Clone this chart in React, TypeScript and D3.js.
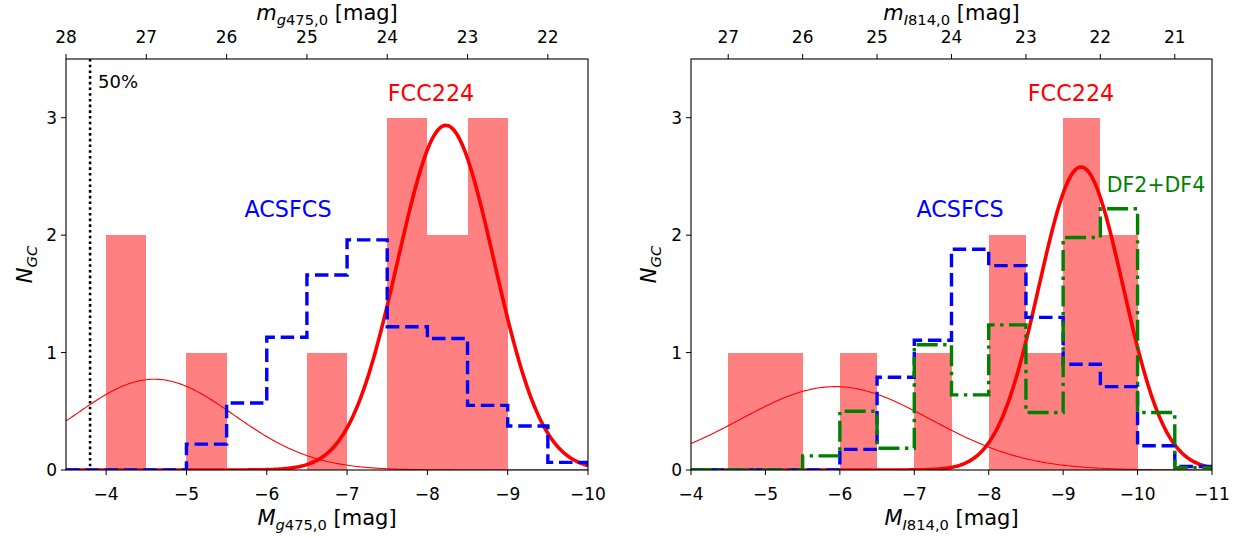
import React from "react";
import * as d3 from "d3";

// ---------- DATA ----------
const DIST_MOD = 31.5;
const BIN_W = 0.5;

// Left panel (g475)
const leftFccEdgeStart = -4;
const leftFccCounts = [2, 0, 1, 0, 0, 1, 0, 3, 2, 3, 0, 0];
const leftAcsEdgeStart = -3.5;
const leftAcsValues = [0, 0, 0, 0.22, 0.57, 1.13, 1.66, 1.96, 1.22, 1.12, 0.55, 0.375, 0.065];
const leftFitThick = [2.935, -8.23, 0.6]; // amplitude, mean, sigma
const leftFitThin = [0.773, -4.6, 0.99];
const leftCompleteness = -3.8;
const leftBottomTicks = [-4, -5, -6, -7, -8, -9, -10];
const leftTopTicks = [28, 27, 26, 25, 24, 23, 22];

// Right panel (I814)
const rightEdgeStart = -4;
const rightFccCounts = [0, 1, 1, 0, 1, 0, 1, 0, 2, 1, 3, 2, 0, 0];
const rightAcsValues = [0, 0, 0, 0, 0.176, 0.79, 1.105, 1.88, 1.74, 1.3, 0.9, 0.71, 0.207, 0.03];
const rightDfValues = [0, 0, 0, 0.12, 0.5, 0.185, 1.066, 0.64, 1.236, 0.49, 1.98, 2.225, 0.49, 0.02];
const rightFitThick = [2.58, -9.24, 0.565];
const rightFitThin = [0.71, -5.94, 1.28];
const rightBottomTicks = [-4, -5, -6, -7, -8, -9, -10, -11];
const rightTopTicks = [27, 26, 25, 24, 23, 22, 21];

const yTicks = [0, 1, 2, 3];

// ---------- LAYOUT ----------
const W = 1245;
const H = 538;
const TOP = 59;
const BOTTOM = 470;
const FONT = "DejaVu Sans, Verdana, sans-serif";
const RED = "#ff0000";
const BAR = "rgb(255,128,128)";
const BLUE = "#0000ff";
const GREEN = "#008000";
const TICK_FS = 17;
const LABEL_FS = 21;
const SUB_FS = 14.7;

const yScale = d3.scaleLinear().domain([0, 3.5]).range([BOTTOM, TOP]);

function stepPath(x: d3.ScaleLinear<number, number>, start: number, vals: number[]) {
  const p = d3.path();
  p.moveTo(x(start), yScale(0));
  vals.forEach((v, i) => {
    const a = start - i * BIN_W;
    const b = a - BIN_W;
    p.lineTo(x(a), yScale(v));
    p.lineTo(x(b), yScale(v));
  });
  p.lineTo(x(start - vals.length * BIN_W), yScale(0));
  return p.toString();
}

function gaussPath(x: d3.ScaleLinear<number, number>, params: number[]) {
  const [amp, mu, sig] = params;
  const [d0, d1] = x.domain();
  const n = 300;
  const pts: [number, number][] = d3.range(n + 1).map((i) => {
    const m = d0 + ((d1 - d0) * i) / n;
    return [m, amp * Math.exp(-((m - mu) ** 2) / (2 * sig * sig))];
  });
  return d3
    .line<[number, number]>()
    .x((d) => x(d[0]))
    .y((d) => yScale(d[1]))(pts) as string;
}

type PanelProps = {
  id: string;
  x: d3.ScaleLinear<number, number>;
  fccStart: number;
  fccCounts: number[];
  acsStart: number;
  acsValues: number[];
  dfValues?: number[];
  thick: number[];
  thin: number[];
  bottomTicks: number[];
  topTicks: number[];
  band: string;
  completeness?: number;
  fccLabel: [number, number];
  acsLabel: [number, number];
  dfLabel?: [number, number];
  yLabelX: number;
};

function Panel(p: PanelProps) {
  const [x0, x1] = p.x.range();
  const left = Math.min(x0, x1);
  const right = Math.max(x0, x1);
  const cx = (left + right) / 2;
  const clipId = "clip-" + p.id;
  const isG = p.band === "g475";
  return (
    <g>
      <defs>
        <clipPath id={clipId}>
          <rect x={left} y={TOP} width={right - left} height={BOTTOM - TOP} />
        </clipPath>
      </defs>
      {/* bars */}
      {p.fccCounts.map((c, i) => {
        if (c <= 0) return null;
        const a = p.fccStart - i * BIN_W;
        const b = a - BIN_W;
        return (
          <rect
            key={i}
            x={p.x(a)}
            y={yScale(c)}
            width={p.x(b) - p.x(a)}
            height={yScale(0) - yScale(c)}
            fill={BAR}
            shapeRendering="crispEdges"
          />
        );
      })}
      <g clipPath={`url(#${clipId})`}>
        {p.completeness !== undefined && (
          <line
            x1={p.x(p.completeness)}
            x2={p.x(p.completeness)}
            y1={TOP}
            y2={BOTTOM}
            stroke="#000"
            strokeWidth={2.6}
            strokeDasharray="2.6 3.1"
          />
        )}
        <path d={gaussPath(p.x, p.thin)} fill="none" stroke={RED} strokeWidth={1.1} />
        <path d={gaussPath(p.x, p.thick)} fill="none" stroke={RED} strokeWidth={3.6} />
        <path
          d={stepPath(p.x, p.acsStart, p.acsValues)}
          fill="none"
          stroke={BLUE}
          strokeWidth={3.4}
          strokeDasharray="13.5 5.8"
        />
        {p.dfValues && (
          <path
            d={stepPath(p.x, p.fccStart, p.dfValues)}
            fill="none"
            stroke={GREEN}
            strokeWidth={3.4}
            strokeDasharray="21 5.5 3.4 5.5"
          />
        )}
      </g>
      {/* frame */}
      <rect x={left} y={TOP} width={right - left} height={BOTTOM - TOP} fill="none" stroke="#000" strokeWidth={1.1} />
      {/* bottom ticks */}
      {p.bottomTicks.map((t) => (
        <g key={"b" + t}>
          <line x1={p.x(t)} x2={p.x(t)} y1={BOTTOM} y2={BOTTOM + 5} stroke="#000" strokeWidth={1} />
          <text x={p.x(t)} y={500} textAnchor="middle" fontSize={TICK_FS} fontFamily={FONT}>
            {"\u2212" + Math.abs(t)}
          </text>
        </g>
      ))}
      {/* top ticks */}
      {p.topTicks.map((t) => {
        const xx = p.x(t - DIST_MOD);
        return (
          <g key={"t" + t}>
            <line x1={xx} x2={xx} y1={TOP} y2={TOP - 5} stroke="#000" strokeWidth={1} />
            <text x={xx} y={43} textAnchor="middle" fontSize={TICK_FS} fontFamily={FONT}>
              {t}
            </text>
          </g>
        );
      })}
      {/* y ticks */}
      {yTicks.map((t) => (
        <g key={"y" + t}>
          <line x1={left} x2={left - 5} y1={yScale(t)} y2={yScale(t)} stroke="#000" strokeWidth={1} />
          <text x={left - 9} y={yScale(t) + 6.2} textAnchor="end" fontSize={TICK_FS} fontFamily={FONT}>
            {t}
          </text>
        </g>
      ))}
      {/* axis labels */}
      <text x={cx} y={525} textAnchor="middle" fontSize={LABEL_FS} fontFamily={FONT}>
        <tspan fontStyle="italic">M</tspan>
        <tspan fontSize={SUB_FS} dy={4.5}>
          <tspan fontStyle="italic">{isG ? "g" : "I"}</tspan>
          {isG ? "475,0" : "814,0"}
        </tspan>
        <tspan dy={-4.5}> [mag]</tspan>
      </text>
      <text x={cx} y={20} textAnchor="middle" fontSize={LABEL_FS} fontFamily={FONT}>
        <tspan fontStyle="italic">m</tspan>
        <tspan fontSize={SUB_FS} dy={4.5}>
          <tspan fontStyle="italic">{isG ? "g" : "I"}</tspan>
          {isG ? "475,0" : "814,0"}
        </tspan>
        <tspan dy={-4.5}> [mag]</tspan>
      </text>
      <text
        transform={`translate(${p.yLabelX},${(TOP + BOTTOM) / 2}) rotate(-90)`}
        textAnchor="middle"
        fontSize={LABEL_FS}
        fontFamily={FONT}
      >
        <tspan fontStyle="italic">N</tspan>
        <tspan fontSize={SUB_FS} dy={4.5} fontStyle="italic">GC</tspan>
      </text>
      {/* annotations */}
      {p.completeness !== undefined && (
        <text x={p.x(p.completeness) + 8} y={88} fontSize={18} fontFamily={FONT}>
          50%
        </text>
      )}
      <text x={p.fccLabel[0]} y={p.fccLabel[1]} textAnchor="middle" fontSize={22.3} fontFamily={FONT} fill={RED}>
        FCC224
      </text>
      <text x={p.acsLabel[0]} y={p.acsLabel[1]} textAnchor="middle" fontSize={22.3} fontFamily={FONT} fill={BLUE}>
        ACSFCS
      </text>
      {p.dfLabel && (
        <text x={p.dfLabel[0]} y={p.dfLabel[1]} textAnchor="middle" fontSize={20.5} fontFamily={FONT} fill={GREEN}>
          DF2+DF4
        </text>
      )}
    </g>
  );
}

export default function App() {
  const xLeft = d3.scaleLinear().domain([-3.5, -10]).range([66, 588]);
  const xRight = d3.scaleLinear().domain([-4, -11]).range([691, 1212]);
  return (
    <div style={{ position: "absolute", left: 0, top: 0 }}>
      <svg width={W} height={H} viewBox={`0 0 ${W} ${H}`} style={{ display: "block", background: "#fff" }}>
        <rect x={0} y={0} width={W} height={H} fill="#fff" />
        <Panel
          id="l"
          x={xLeft}
          fccStart={leftFccEdgeStart}
          fccCounts={leftFccCounts}
          acsStart={leftAcsEdgeStart}
          acsValues={leftAcsValues}
          thick={leftFitThick}
          thin={leftFitThin}
          bottomTicks={leftBottomTicks}
          topTicks={leftTopTicks}
          band="g475"
          completeness={leftCompleteness}
          fccLabel={[431, 101]}
          acsLabel={[288, 217]}
          yLabelX={32}
        />
        <Panel
          id="r"
          x={xRight}
          fccStart={rightEdgeStart}
          fccCounts={rightFccCounts}
          acsStart={rightEdgeStart}
          acsValues={rightAcsValues}
          dfValues={rightDfValues}
          thick={rightFitThick}
          thin={rightFitThin}
          bottomTicks={rightBottomTicks}
          topTicks={rightTopTicks}
          band="I814"
          fccLabel={[1071, 101]}
          acsLabel={[960, 217]}
          dfLabel={[1156, 192]}
          yLabelX={656}
        />
      </svg>
    </div>
  );
}
